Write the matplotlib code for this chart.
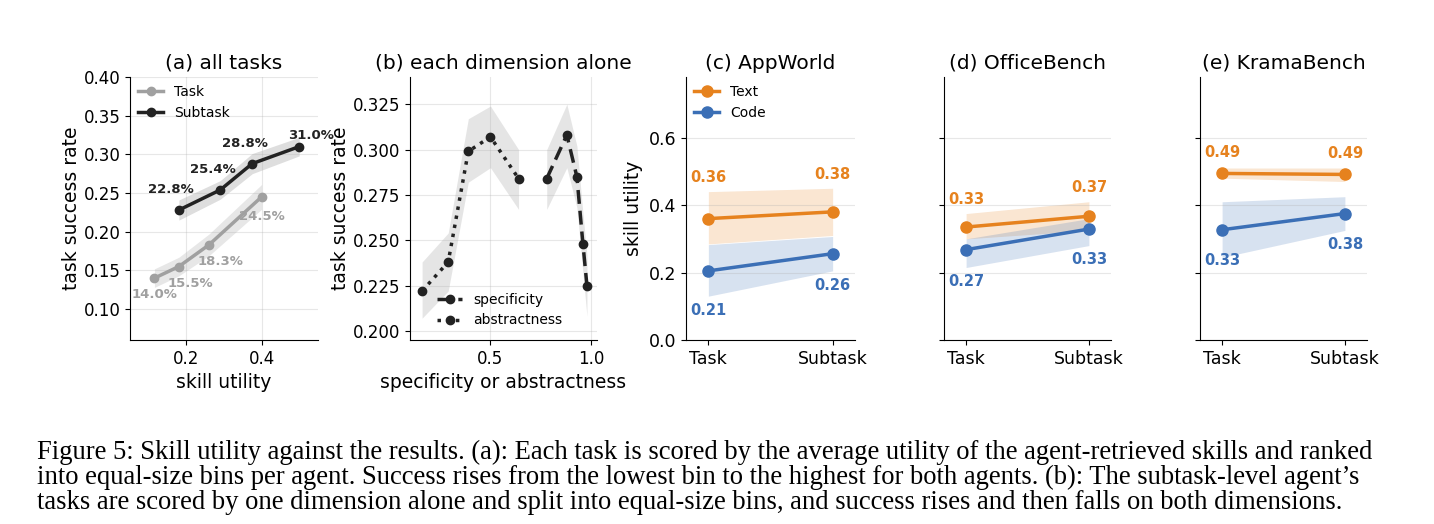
import numpy as np
import matplotlib.pyplot as plt

# (a) all tasks
task_x = [0.115, 0.18, 0.26, 0.40]
task_y = [0.140, 0.155, 0.183, 0.245]
sub_x = [0.18, 0.29, 0.375, 0.50]
sub_y = [0.228, 0.254, 0.288, 0.310]
task_band = [0.012, 0.012, 0.014, 0.016]
sub_band = [0.013, 0.012, 0.013, 0.012]

# (b) each dimension alone
abs_x = [0.16, 0.29, 0.39, 0.50, 0.64]
abs_y = [0.222, 0.238, 0.299, 0.307, 0.284]
abs_lo = [0.207, 0.222, 0.282, 0.290, 0.267]
abs_hi = [0.238, 0.254, 0.317, 0.324, 0.300]
spec_x = [0.78, 0.88, 0.93, 0.96, 0.98]
spec_y = [0.284, 0.308, 0.285, 0.248, 0.225]
spec_lo = [0.267, 0.290, 0.268, 0.232, 0.208]
spec_hi = [0.300, 0.325, 0.302, 0.265, 0.242]

# (c)-(e) skill utility by granularity
benches = ['(c) AppWorld', '(d) OfficeBench', '(e) KramaBench']
levels = ['Task', 'Subtask']
text_vals = [[0.36, 0.38], [0.335, 0.367], [0.494, 0.491]]
text_lo = [[0.285, 0.31], [0.30, 0.325], [0.48, 0.47]]
text_hi = [[0.44, 0.45], [0.375, 0.41], [0.51, 0.51]]
code_vals = [[0.205, 0.256], [0.268, 0.329], [0.327, 0.375]]
code_lo = [[0.13, 0.205], [0.215, 0.28], [0.245, 0.325]]
code_hi = [[0.283, 0.307], [0.30, 0.36], [0.41, 0.425]]
text_lab = [['0.36', '0.38'], ['0.33', '0.37'], ['0.49', '0.49']]
code_lab = [['0.21', '0.26'], ['0.27', '0.33'], ['0.33', '0.38']]

orange = '#e6821e'
blue = '#3b6fb6'
grey = '#a0a0a0'
dark = '#222222'

plt.rcParams['font.family'] = 'DejaVu Sans'
fig = plt.figure(figsize=(14.34, 5.24), dpi=100)
H = 524.0
def box(l, r, t=77, b=340):
    return [l / 1434, (H - b) / H, (r - l) / 1434, (b - t) / H]

def clean(ax):
    ax.spines['top'].set_visible(False)
    ax.spines['right'].set_visible(False)

# panel a
ax = fig.add_axes(box(130, 318))
ax.fill_between(task_x, np.array(task_y) - task_band, np.array(task_y) + task_band, color=grey, alpha=0.25, lw=0)
ax.fill_between(sub_x, np.array(sub_y) - sub_band, np.array(sub_y) + sub_band, color=dark, alpha=0.15, lw=0)
ax.plot(task_x, task_y, '-o', color=grey, lw=2.5, ms=6, label='Task')
ax.plot(sub_x, sub_y, '-o', color=dark, lw=2.5, ms=6, label='Subtask')
for x, y, dx, dy in zip(task_x, task_y, [0, 0.03, 0.03, 0], [-0.026, -0.026, -0.026, -0.03]):
    ax.text(x + dx, y + dy, f'{y*100:.1f}%', color=grey, fontsize=9.5, fontweight='bold', ha='center')
for x, y in zip(sub_x, sub_y):
    if x < 0.45:
        ax.text(x - 0.02, y + 0.022, f'{y*100:.1f}%', color=dark, fontsize=9.5, fontweight='bold', ha='center')
    else:
        ax.text(x - 0.03, y + 0.01, f'{y*100:.1f}%', color=dark, fontsize=9.5, fontweight='bold', ha='left')
ax.set_xlim(0.05, 0.55)
ax.set_ylim(0.06, 0.40)
ax.set_xticks([0.2, 0.4])
ax.set_yticks([0.10, 0.15, 0.20, 0.25, 0.30, 0.35, 0.40])
ax.grid(alpha=0.3)
clean(ax)
ax.tick_params(labelsize=12)
ax.set_xlabel('skill utility', fontsize=13.5)
ax.set_ylabel('task success rate', fontsize=13.5, labelpad=2)
ax.set_title('(a) all tasks', fontsize=14.5)
ax.legend(loc='upper left', frameon=False, fontsize=10, handlelength=1.8, borderaxespad=0.2)

# panel b
ax = fig.add_axes(box(410, 597))
ax.fill_between(abs_x, abs_lo, abs_hi, color='grey', alpha=0.2, lw=0)
ax.fill_between(spec_x, spec_lo, spec_hi, color='grey', alpha=0.2, lw=0)
ax.plot(spec_x, spec_y, '--o', color=dark, lw=2.5, ms=6, dashes=(4, 2), label='specificity')
ax.plot(abs_x, abs_y, ':o', color=dark, lw=2.5, ms=6, label='abstractness')
ax.set_xlim(0.1, 1.03)
ax.set_ylim(0.195, 0.34)
ax.set_xticks([0.5, 1.0])
ax.set_yticks([0.200, 0.225, 0.250, 0.275, 0.300, 0.325])
ax.grid(alpha=0.3)
clean(ax)
ax.tick_params(labelsize=12)
ax.set_xlabel('specificity or abstractness', fontsize=13.5)
ax.set_ylabel('task success rate', fontsize=13.5, labelpad=2)
ax.set_title('(b) each dimension alone', fontsize=14.5)
ax.legend(loc='lower left', frameon=False, fontsize=10, handlelength=1.8, bbox_to_anchor=(0.08, 0.0))

# panels c-e
lefts = [(686, 855), (944, 1111), (1200, 1367)]
xs = [0, 1]
for i, (l, r) in enumerate(lefts):
    ax = fig.add_axes(box(l, r))
    ax.fill_between(xs, text_lo[i], text_hi[i], color=orange, alpha=0.2, lw=0)
    ax.fill_between(xs, code_lo[i], code_hi[i], color=blue, alpha=0.2, lw=0)
    ax.plot(xs, text_vals[i], '-o', color=orange, lw=2.5, ms=8, label='Text')
    ax.plot(xs, code_vals[i], '-o', color=blue, lw=2.5, ms=8, label='Code')
    for j in range(2):
        above = text_hi[i][j] + 0.02 if i < 2 else text_vals[i][j] + 0.04
        ax.text(xs[j], above, text_lab[i][j], color=orange, fontsize=10.5,
                fontweight='bold', ha='center', va='bottom')
        below = code_vals[i][j] - 0.07 if i == 2 else code_lo[i][j] - 0.02
        ax.text(xs[j], below, code_lab[i][j], color=blue, fontsize=10.5,
                fontweight='bold', ha='center', va='top')
    ax.set_xlim(-0.18, 1.18)
    ax.set_ylim(0, 0.78)
    ax.set_xticks(xs)
    ax.set_xticklabels(levels)
    ax.set_yticks([0.0, 0.2, 0.4, 0.6])
    ax.grid(axis='y', alpha=0.3)
    clean(ax)
    ax.tick_params(labelsize=12.5)
    ax.set_title(benches[i], fontsize=14.5)
    if i == 0:
        ax.set_ylabel('skill utility', fontsize=13.5)
        ax.legend(loc='upper left', frameon=False, fontsize=10, handlelength=1.8, borderaxespad=0.2)
    else:
        ax.set_yticklabels([])

caption = ("Figure 5: Skill utility against the results. (a): Each task is scored by the average utility of the agent-retrieved skills and ranked\n"
           "into equal-size bins per agent. Success rises from the lowest bin to the highest for both agents. (b): The subtask-level agent\u2019s\n"
           "tasks are scored by one dimension alone and split into equal-size bins, and success rises and then falls on both dimensions.")
fig.text(37 / 1434, (H - 440) / H, caption, family='Liberation Serif', fontsize=19.2,
         va='top', ha='left', linespacing=0.98)

fig.savefig('out.png', dpi=100)
